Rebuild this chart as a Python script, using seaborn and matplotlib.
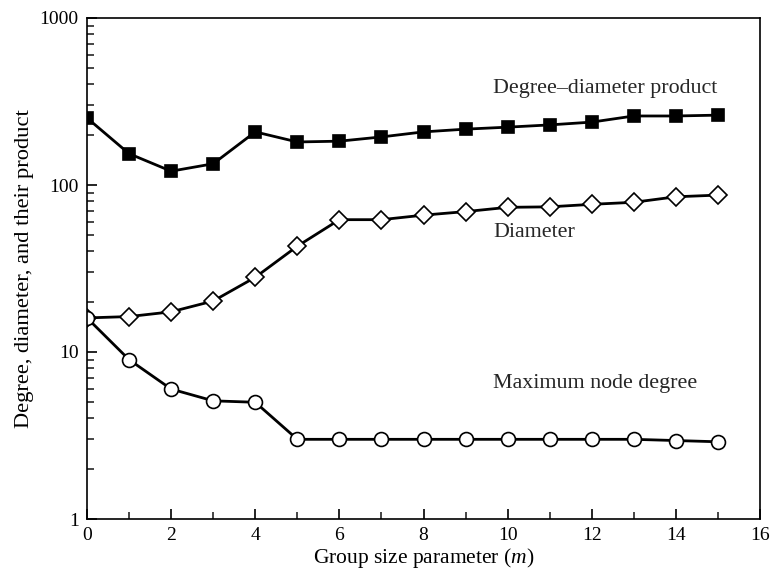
import matplotlib
matplotlib.use("Agg")
import matplotlib.pyplot as plt
import seaborn as sns
import numpy as np
import pandas as pd
from matplotlib.ticker import FixedLocator, LogLocator, NullFormatter

m_values = list(range(16))
product_values = [252, 154, 121, 134, 208, 181, 183, 194, 208, 216, 222, 229, 238, 259, 259, 262]
diameter_values = [16, 16.3, 17.4, 20.2, 28, 43, 62, 62, 66, 69.3, 73.5, 74, 76.6, 78.8, 85, 87]
degree_values = [16, 9, 6, 5.1, 5, 3, 3, 3, 3, 3, 3, 3, 3, 3, 2.95, 2.9]
x_ticks = [0, 2, 4, 6, 8, 10, 12, 14, 16]
y_ticks = [1, 10, 100, 1000]
y_tick_labels = ["1", "10", "100", "1000"]

sns.set_style("white")
plt.rcParams["font.family"] = ["Liberation Serif", "DejaVu Serif"]
plt.rcParams["mathtext.fontset"] = "custom"
plt.rcParams["mathtext.it"] = "Liberation Serif:italic"
plt.rcParams["mathtext.rm"] = "Liberation Serif"

fig = plt.figure(figsize=(7.73, 5.73), dpi=100)
ax = fig.add_axes([87 / 773, 54 / 573, (760 - 87) / 773, (519 - 18) / 573])

df = pd.DataFrame({"m": m_values, "product": product_values,
                   "diameter": diameter_values, "degree": degree_values})

sns.lineplot(data=df, x="m", y="product", ax=ax, color="black", lw=2,
             marker="s", markersize=9, markerfacecolor="black",
             markeredgecolor="black", markeredgewidth=1.2)
sns.lineplot(data=df, x="m", y="diameter", ax=ax, color="black", lw=2,
             marker="D", markersize=9, markerfacecolor="white",
             markeredgecolor="black", markeredgewidth=1.2)
sns.lineplot(data=df, x="m", y="degree", ax=ax, color="black", lw=2,
             marker="o", markersize=10, markerfacecolor="white",
             markeredgecolor="black", markeredgewidth=1.2)

ax.set_yscale("log")
ax.set_xlim(0, 16)
ax.set_ylim(1, 1000)
ax.set_xticks(x_ticks)
ax.set_xticklabels([str(t) for t in x_ticks])
ax.xaxis.set_minor_locator(FixedLocator(m_values))
ax.set_yticks(y_ticks)
ax.set_yticklabels(y_tick_labels)
ax.yaxis.set_minor_locator(LogLocator(base=10, subs=np.arange(2, 10)))
ax.yaxis.set_minor_formatter(NullFormatter())

ax.tick_params(axis="both", which="major", direction="in", length=7, width=1.2,
               labelsize=14, colors="black", top=False, right=False,
               bottom=True, left=True, pad=6)
ax.tick_params(axis="both", which="minor", direction="in", length=5, width=1.2,
               top=False, right=False, bottom=True, left=True)
for s in ax.spines.values():
    s.set_color("black")
    s.set_linewidth(1.2)

ax.set_xlabel("Group size parameter ($\\mathit{m}$)", fontsize=15.5, color="black", labelpad=1)
ax.set_ylabel("Degree, diameter, and their product", fontsize=16.2, color="black", labelpad=4)

ax.text(9.65, 380, "Degree\u2013diameter product", fontsize=15.8, ha="left", va="center")
ax.text(9.65, 52, "Diameter", fontsize=15.8, ha="left", va="center")
ax.text(9.65, 6.5, "Maximum node degree", fontsize=15.8, ha="left", va="center")

fig.savefig("out.png", dpi=100)
